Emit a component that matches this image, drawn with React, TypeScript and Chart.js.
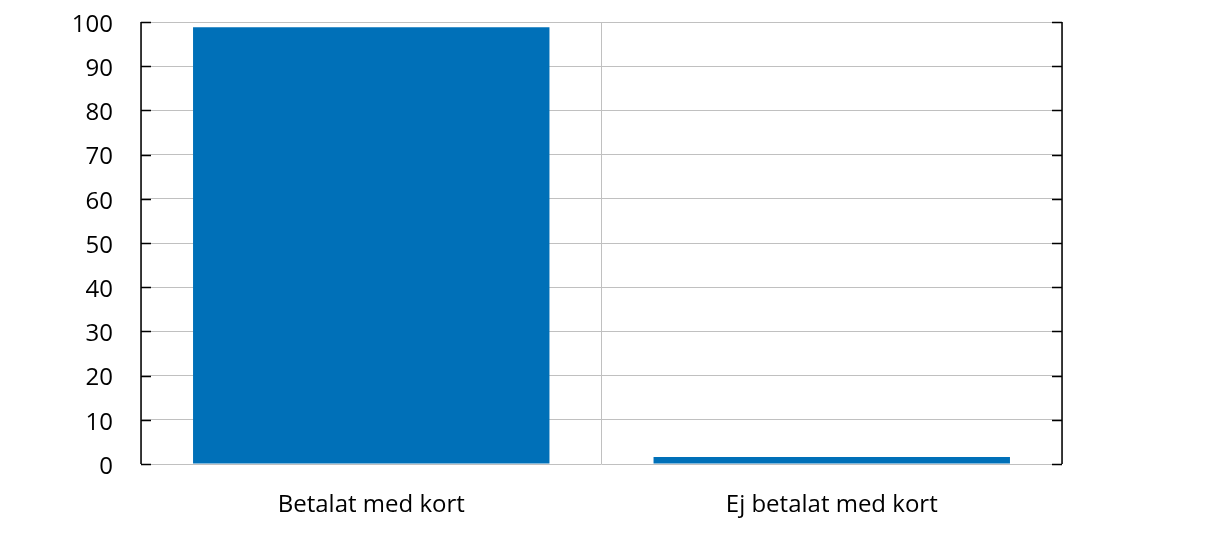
import React, { useEffect, useRef } from "react";
import { Chart, registerables } from "chart.js";

Chart.register(...registerables);

const categories = ["Betalat med kort", "Ej betalat med kort"];
const values = [98.8, 1.6];
const yMin = 0;
const yMax = 100;
const yStep = 10;

const FONT = "'Open Sans', 'Noto Sans', sans-serif";

const frameAxes = {
  id: "frameAxes",
  afterDatasetsDraw(chart: any) {
    const { ctx, chartArea } = chart;
    const y = chart.scales.y;
    ctx.save();
    ctx.strokeStyle = "#000000";
    ctx.lineWidth = 1.5;
    ctx.beginPath();
    ctx.moveTo(chartArea.left, chartArea.top);
    ctx.lineTo(chartArea.left, chartArea.bottom);
    ctx.moveTo(chartArea.right, chartArea.top);
    ctx.lineTo(chartArea.right, chartArea.bottom);
    for (const t of y.ticks) {
      const py = Math.round(y.getPixelForValue(t.value)) + 0.5;
      ctx.moveTo(chartArea.left, py);
      ctx.lineTo(chartArea.left + 10, py);
      ctx.moveTo(chartArea.right - 10, py);
      ctx.lineTo(chartArea.right, py);
    }
    ctx.stroke();
    ctx.restore();
  },
};

export default function App() {
  const ref = useRef<HTMLCanvasElement | null>(null);
  useEffect(() => {
    if (!ref.current) return;
    const chart = new Chart(ref.current, {
      type: "bar",
      data: {
        labels: categories,
        datasets: [
          {
            data: values,
            backgroundColor: "#0070b8",
            borderWidth: 0,
            barPercentage: 0.774,
            categoryPercentage: 1,
          },
        ],
      },
      options: {
        animation: false,
        responsive: true,
        maintainAspectRatio: false,
        layout: { padding: { left: 0, right: 161, top: 22, bottom: 0 } },
        plugins: { legend: { display: false }, tooltip: { enabled: false } },
        scales: {
          x: {
            type: "category",
            grid: { display: true, offset: true, color: "#c0c0c0", lineWidth: 1, drawTicks: false },
            border: { display: false },
            ticks: { color: "#000000", font: { family: FONT, size: 24 }, padding: 27 },
            afterFit: (s: any) => {
              s.height = 77;
              s.paddingTop = 0;
              s.paddingBottom = 0;
            },
          },
          y: {
            min: yMin,
            max: yMax,
            grid: { color: "#c0c0c0", lineWidth: 1, drawTicks: false },
            border: { display: false },
            ticks: {
              stepSize: yStep,
              color: "#000000",
              font: { family: FONT, size: 24 },
              padding: 28,
              labelOffset: 3,
            },
            afterFit: (s: any) => {
              s.width = 141;
              s.paddingTop = 0;
              s.paddingBottom = 0;
            },
          },
        },
      },
      plugins: [frameAxes],
    });
    return () => chart.destroy();
  }, []);
  return (
    <div style={{ position: "fixed", left: 0, top: 0, width: 1223, height: 541, background: "#fff" }}>
      <canvas ref={ref} />
    </div>
  );
}
